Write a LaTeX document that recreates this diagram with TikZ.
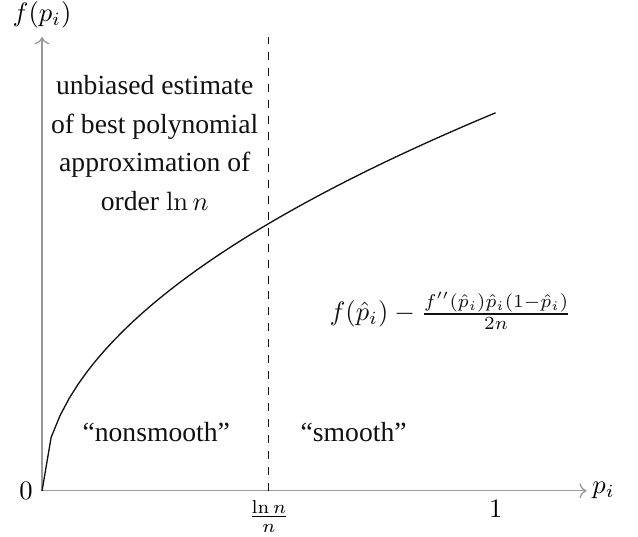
\documentclass[tikz,border=0pt]{standalone}
\usepackage[no-math]{fontspec}
\setmainfont{Liberation Serif}
\usepackage{amsmath}
\usetikzlibrary{arrows.meta, calc, positioning}
\definecolor{mGrey}{HTML}{999999}
\definecolor{mInk}{HTML}{111111}

\begin{document}
\begin{tikzpicture}[
    axisline/.style={mGrey, line width=0.5pt, ->},
    regiontext/.style={font=\fontsize{10.4}{14.5}\selectfont, align=center, mInk}]
  \useasboundingbox (-0.556,-0.61) rectangle (7.88,6.49);
  % axes
  \coordinate (O) at (0,0);
  \coordinate (xEnd) at (7.2,0);
  \coordinate (yEnd) at (0,6);
  \draw[axisline] (O) -- (xEnd);
  \draw[axisline] (O) -- (yEnd);
  \node[right, inner sep=2pt] (xLabel) at (xEnd) {$p_i$};
  \node[above] (yLabel) at (yEnd) {$f(p_i)$};
  \node[left] (zeroLabel) at (O) {$0$};
  % threshold ln n / n
  \coordinate (tBase) at (3,0);
  \coordinate (tTop) at (3,6);
  \draw[dashed, mInk] (tBase) -- (tTop);
  \node[below] (tLabel) at (tBase) {$\frac{\ln n}{n}$};
  \coordinate (oneBase) at (6,0);
  \node[below] (oneLabel) at (oneBase) {$1$};
  % the function
  \draw[mInk, line width=0.5pt] plot[domain=0:1, samples=51] ({6*\x},{5*sqrt(\x)});
  % regions
  \node[regiontext] (bestPoly) at (1.49,4.60)
    {unbiased estimate\\ of best polynomial\\ approximation of\\ order $\ln n$};
  \node[regiontext, anchor=base] (nonSmooth) at (1.51,0.65) {``nonsmooth''};
  \node[regiontext, anchor=base] (smooth) at (4.12,0.65) {``smooth''};
  \node[anchor=base, mInk] (biasCorr) at (5.40,2.25)
    {$f(\hat{p}_i) - \frac{f''(\hat{p}_i)\hat{p}_i(1-\hat{p}_i)}{2n}$};
\end{tikzpicture}
\end{document}
